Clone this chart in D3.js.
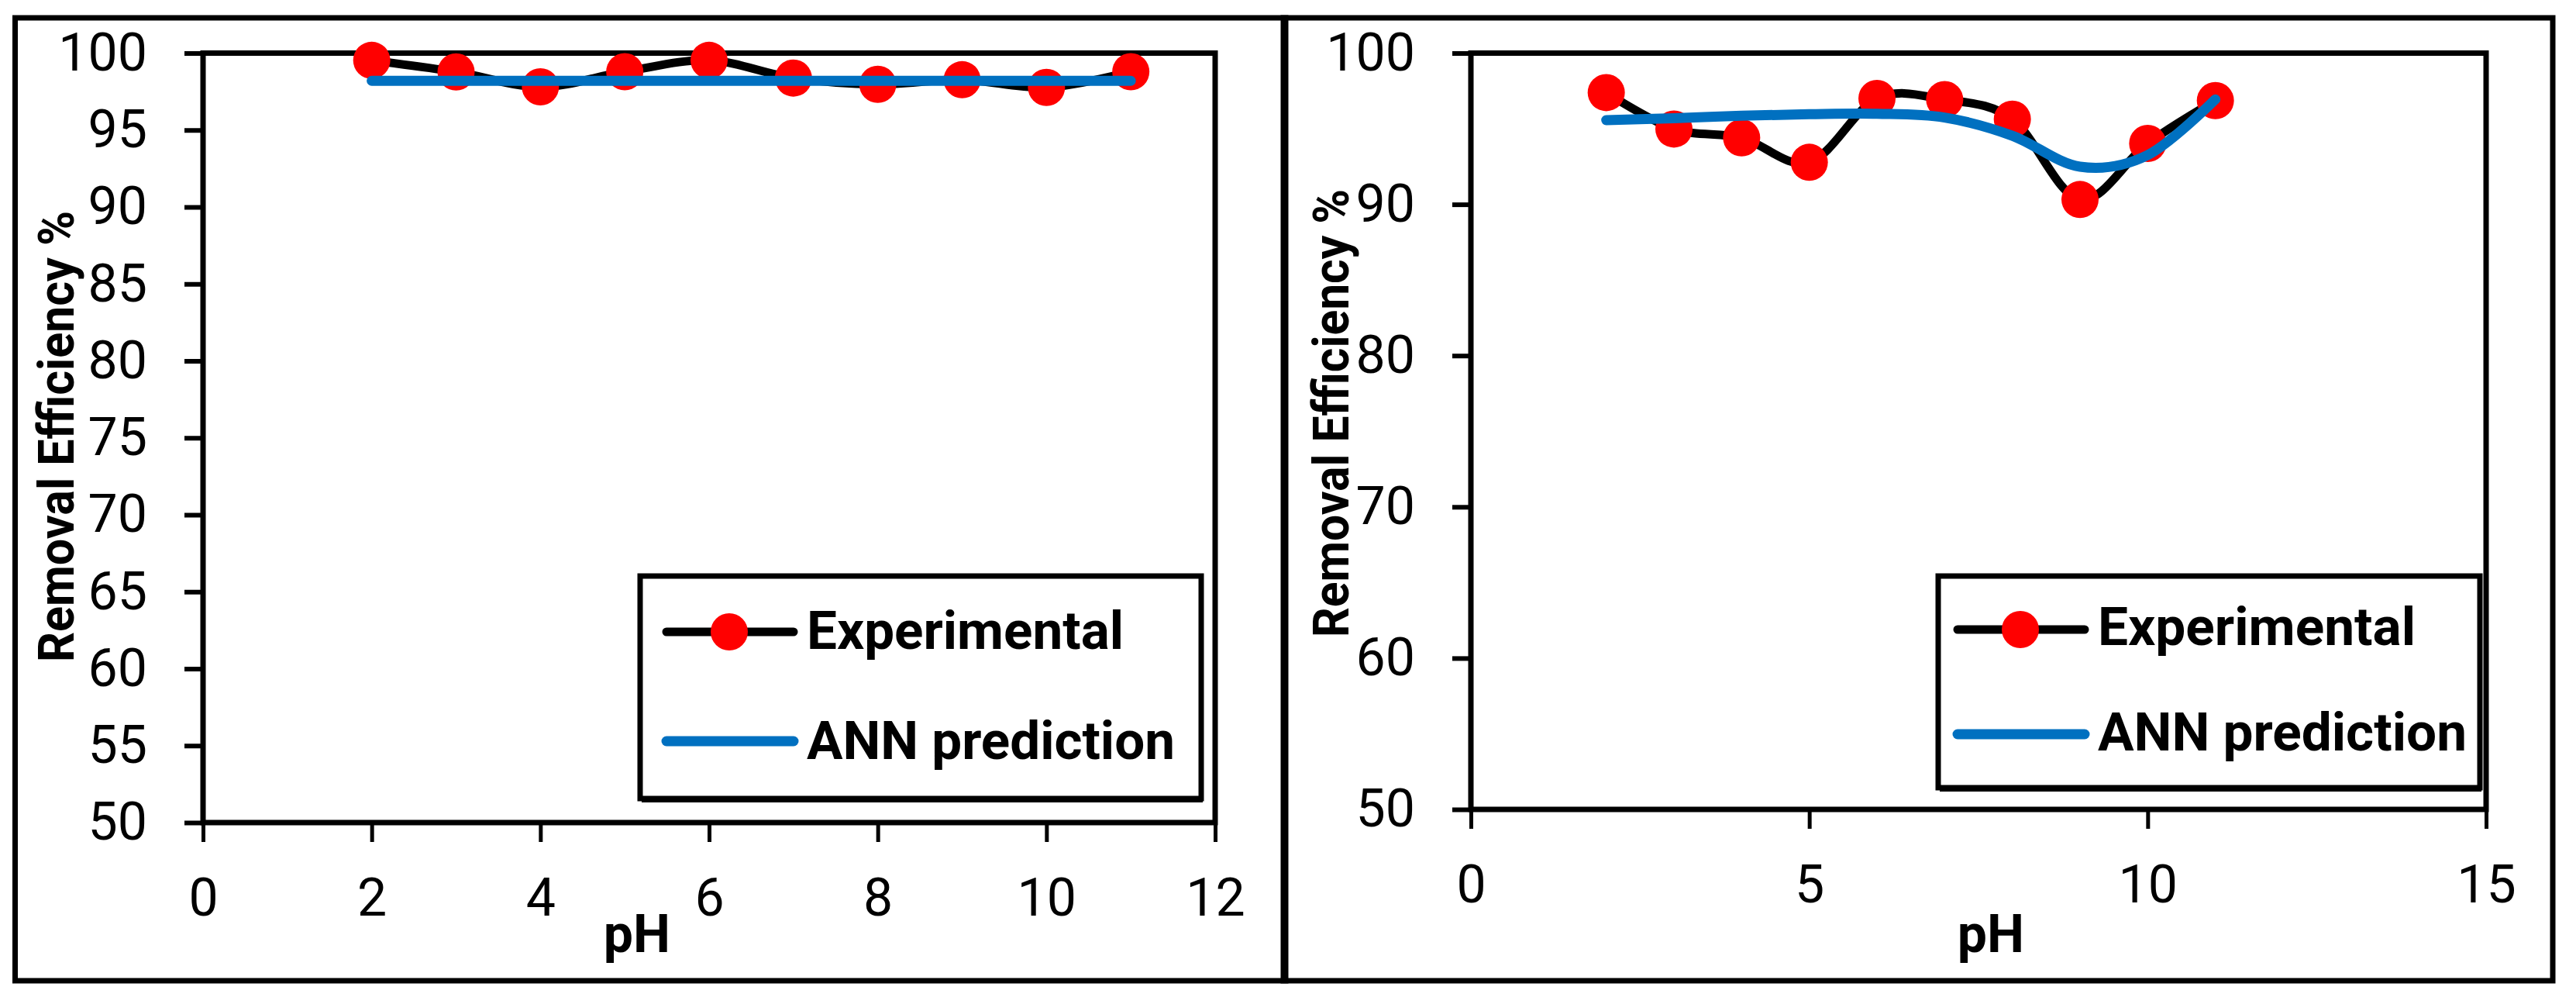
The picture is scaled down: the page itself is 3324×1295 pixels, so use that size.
<!DOCTYPE html>
<html>
<head>
<meta charset="utf-8">
<script src="https://cdn.jsdelivr.net/npm/d3@7"></script>
<style>
  body { margin: 0; background: #fff; }
  svg { display: block; }
  .tick text { font-family: "Liberation Sans Narrow", "Arial Narrow", Roboto, sans-serif; }
  .bold { font-family: "Liberation Sans Narrow", "Arial Narrow", Roboto, sans-serif; font-weight: bold; }
</style>
</head>
<body>
<div id="chart"></div>
<script>
// pH values shared by both panels
const phValues = [2, 3, 4, 5, 6, 7, 8, 9, 10, 11];

// left panel
const expLeft = [99.53, 98.78, 97.81, 98.79, 99.53, 98.38, 97.97, 98.27, 97.77, 98.79];
const annLeft = [98.2, 98.2, 98.2, 98.2, 98.2, 98.2, 98.2, 98.2, 98.2, 98.2];
const leftXTicks = [0, 2, 4, 6, 8, 10, 12];
const leftYTicks = [50, 55, 60, 65, 70, 75, 80, 85, 90, 95, 100];

// right panel
const expRight = [97.39, 94.98, 94.40, 92.78, 97.0, 96.93, 95.63, 90.32, 94.03, 96.86];
const annRight = [95.57, 95.70, 95.86, 95.96, 95.99, 95.74, 94.54, 92.49, 93.26, 96.94];
const rightXTicks = [0, 5, 10, 15];
const rightYTicks = [50, 60, 70, 80, 90, 100];

const seriesNames = ["Experimental", "ANN prediction"];
const xTitle = "pH";
const yTitle = "Removal Efficiency %";

const W = 3324, H = 1295;
const svg = d3.select("#chart").append("svg")
    .attr("width", W).attr("height", H)
    .attr("viewBox", [0, 0, W, H]);

const panels = [
  {
    exp: expLeft, ann: annLeft, xTicks: leftXTicks, yTicks: leftYTicks, xMax: 12,
    border: [19.5, 23, 1659, 1265],
    plot: { x0: 262, x1: 1568, y0: 68.5, y1: 1061 },
    legend: { x: 826, y: 743, w: 724, h: 287, l0: 860, l1: 1024, rows: [815, 956],
              tx: 1041, base: [837, 979], tw: [409, 475], mx: 941 },
    yT: { x: 95, y: 563, len: 582 },
    xT: { x: 822, y: 1228 }
  },
  {
    exp: expRight, ann: annRight, xTicks: rightXTicks, yTicks: rightYTicks, xMax: 15,
    border: [1656, 23, 3294, 1265],
    plot: { x0: 1898, x1: 3208, y0: 68.5, y1: 1044 },
    legend: { x: 2501, y: 743, w: 699, h: 273, l0: 2526, l1: 2690, rows: [812, 947],
              tx: 2707, base: [832, 968], tw: [410, 476], mx: 2607 },
    yT: { x: 1740, y: 533, len: 578 },
    xT: { x: 2569, y: 1228 }
  }
];

const drawPanel = (p) => {
  const [bx0, by0, bx1, by1] = p.border;
  svg.append("rect")
      .attr("x", bx0).attr("y", by0)
      .attr("width", bx1 - bx0).attr("height", by1 - by0)
      .attr("fill", "none").attr("stroke", "#000").attr("stroke-width", 7);

  const x = d3.scaleLinear().domain([0, p.xMax]).range([p.plot.x0, p.plot.x1]);
  const y = d3.scaleLinear().domain([50, 100]).range([p.plot.y1, p.plot.y0]);

  // axes
  const yAxis = svg.append("g")
      .attr("transform", `translate(${p.plot.x0},0)`)
      .call(d3.axisLeft(y).tickValues(p.yTicks).tickSize(24).tickSizeOuter(0).tickPadding(48));
  yAxis.select(".domain").remove();
  yAxis.selectAll(".tick line").attr("stroke-width", 6);
  yAxis.selectAll(".tick text").attr("font-size", 68).attr("fill", "#000");

  const xAxis = svg.append("g")
      .attr("transform", `translate(0,${p.plot.y1})`)
      .call(d3.axisBottom(x).tickValues(p.xTicks).tickSize(25).tickSizeOuter(0).tickPadding(47));
  xAxis.select(".domain").remove();
  xAxis.selectAll(".tick line").attr("stroke-width", 5);
  xAxis.selectAll(".tick text").attr("font-size", 68).attr("fill", "#000");

  // plot area frame
  svg.append("rect")
      .attr("x", p.plot.x0).attr("y", p.plot.y0)
      .attr("width", p.plot.x1 - p.plot.x0).attr("height", p.plot.y1 - p.plot.y0)
      .attr("fill", "none").attr("stroke", "#000").attr("stroke-width", 7);

  // experimental: smoothed black line + red markers
  const line = d3.line()
      .x((d, i) => x(phValues[i]))
      .y(d => y(d))
      .curve(d3.curveCardinal.tension(0));

  svg.append("path")
      .datum(p.exp)
      .attr("d", line)
      .attr("fill", "none").attr("stroke", "#000").attr("stroke-width", 11)
      .attr("stroke-linejoin", "round");

  svg.append("g").selectAll("circle")
      .data(p.exp)
      .join("circle")
      .attr("cx", (d, i) => x(phValues[i]))
      .attr("cy", d => y(d))
      .attr("r", 24)
      .attr("fill", "#ff0000");

  // ANN prediction
  svg.append("path")
      .datum(p.ann)
      .attr("d", line)
      .attr("fill", "none").attr("stroke", "#0070c0").attr("stroke-width", 13)
      .attr("stroke-linecap", "round").attr("stroke-linejoin", "round");

  // axis titles
  svg.append("text")
      .attr("class", "bold")
      .attr("transform", `translate(${p.yT.x},${p.yT.y}) rotate(-90)`)
      .attr("text-anchor", "middle")
      .attr("font-size", 64)
      .attr("textLength", p.yT.len).attr("lengthAdjust", "spacingAndGlyphs")
      .text(yTitle);

  svg.append("text")
      .attr("class", "bold")
      .attr("x", p.xT.x).attr("y", p.xT.y)
      .attr("text-anchor", "middle")
      .attr("font-size", 68)
      .text(xTitle);

  // legend
  const L = p.legend;
  const lg = svg.append("g");
  lg.append("rect")
      .attr("x", L.x).attr("y", L.y).attr("width", L.w).attr("height", L.h)
      .attr("fill", "#fff").attr("stroke", "#000").attr("stroke-width", 7);
  lg.append("line")
      .attr("x1", L.x + 2).attr("x2", L.x + L.w + 2)
      .attr("y1", L.y + L.h + 3).attr("y2", L.y + L.h + 3)
      .attr("stroke", "#000").attr("stroke-width", 4);

  lg.append("line")
      .attr("x1", L.l0).attr("x2", L.l1).attr("y1", L.rows[0]).attr("y2", L.rows[0])
      .attr("stroke", "#000").attr("stroke-width", 11).attr("stroke-linecap", "round");
  lg.append("circle")
      .attr("cx", L.mx).attr("cy", L.rows[0]).attr("r", 24).attr("fill", "#ff0000");
  lg.append("line")
      .attr("x1", L.l0).attr("x2", L.l1).attr("y1", L.rows[1]).attr("y2", L.rows[1])
      .attr("stroke", "#0070c0").attr("stroke-width", 13).attr("stroke-linecap", "round");

  seriesNames.forEach((name, i) => {
    lg.append("text")
        .attr("class", "bold")
        .attr("x", L.tx).attr("y", L.base[i])
        .attr("font-size", 68)
        .attr("textLength", L.tw[i]).attr("lengthAdjust", "spacingAndGlyphs")
        .text(name);
  });
};

panels.forEach(drawPanel);
</script>
</body>
</html>
